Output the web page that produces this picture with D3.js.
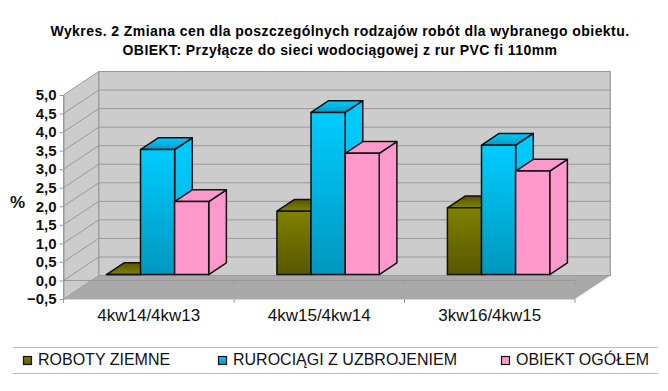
<!DOCTYPE html>
<html lang="pl">

<head>
  <meta charset="utf-8">
  <title>Wykres 2</title>
  <script src="https://d3js.org/d3.v7.min.js"></script>
  <style>
    body {
      margin: 0;
      background: #fff;
    }

    svg {
      display: block;
      font-family: "Liberation Sans", Arial, sans-serif;
    }

    .ytick text {
      font-size: 15px;
      font-weight: bold;
      fill: #111;
    }

    .xtick text {
      font-size: 17px;
      fill: #111;
    }

    .title {
      font-size: 14px;
      font-weight: bold;
      letter-spacing: 0.43px;
      fill: #000;
    }

    .legend {
      font-size: 16px;
      fill: #111;
    }
  </style>
</head>

<body>
  <svg id="svg" width="668" height="391"></svg>
  <script type="text/javascript">

    var titleLines = [
      'Wykres. 2 Zmiana cen dla poszczególnych rodzajów robót dla wybranego obiektu.',
      'OBIEKT: Przyłącze do sieci wodociągowej z rur PVC fi 110mm'
    ];
    var categories = ['4kw14/4kw13', '4kw15/4kw14', '3kw16/4kw15'];
    var seriesNames = ['ROBOTY ZIEMNE', 'RUROCIĄGI Z UZBROJENIEM', 'OBIEKT OGÓŁEM'];
    var robotyZiemne = [0.0, 1.71, 1.8];
    var rurociagi = [3.37, 4.37, 3.49];
    var obiektOgolem = [1.97, 3.27, 2.79];
    var yTicks = [-0.5, 0, 0.5, 1, 1.5, 2, 2.5, 3, 3.5, 4, 4.5, 5];

    var seriesValues = [robotyZiemne, rurociagi, obiektOgolem];

    // kolory: przod, gora i bok slupka
    var frontColors = [['#808000', '#575700'], ['#00ccff', '#0097bd'], ['#ff99cc', '#ff99cc']];
    var topColors = [['#565600', '#808000'], ['#00ccff', '#0099c0'], ['#ff99cc', '#ff99cc']];
    var sideColors = [['#808000', '#666600'], ['#00ccff', '#00b4e0'], ['#ff99cc', '#ff99cc']];
    var legendX = [23, 218, 501];

    var svg = d3.select('#svg');

    var y = d3.scaleLinear().domain([-0.5, 5]).range([299, 95]);
    var x = d3.scaleBand().domain(categories).range([63.5, 575]);
    var xSeries = d3.scaleBand().domain(seriesNames).range([0, x.bandwidth()])
      .paddingInner(0).paddingOuter(1);

    var depthX = 35.3;
    var depthY = 23.5;
    var gridColor = '#999';

    // punkt przesuniety w glab wykresu (t = 0 przod, t = 1 tylna sciana)
    function deep(px, py, t) {
      return [px + depthX * t, py - depthY * t];
    }

    var poly = d3.line();

    function buildGradient(defs, id, colors) {
      var g = defs.append('linearGradient')
        .attr('id', id)
        .attr('x1', 0).attr('y1', 0).attr('x2', 0).attr('y2', 1);
      g.append('stop').attr('offset', '0%').attr('stop-color', colors[0]);
      g.append('stop').attr('offset', '100%').attr('stop-color', colors[1]);
    }

    function buildWalls() {
      var left = x.range()[0], right = x.range()[1];
      var yMin = y(-0.5), yMax = y(5);
      var g = svg.append('g');

      // podloga
      g.append('path')
        .attr('d', poly([[left, yMin], [right, yMin], deep(right, yMin, 1), deep(left, yMin, 1)]) + 'Z')
        .style('fill', '#a9a9a9');
      // sciana lewa
      g.append('path')
        .attr('d', poly([[left, yMin], [left, yMax], deep(left, yMax, 1), deep(left, yMin, 1)]) + 'Z')
        .style('fill', '#cccccc')
        .style('stroke', gridColor);
      // sciana tylna
      g.append('path')
        .attr('d', poly([deep(left, yMin, 1), deep(left, yMax, 1), deep(right, yMax, 1), deep(right, yMin, 1)]) + 'Z')
        .style('fill', '#cccccc')
        .style('stroke', gridColor)
        .style('stroke-width', 1.2);

      // linie siatki
      g.selectAll('.grid')
        .data(yTicks.filter((d) => d > -0.5 && d < 5))
        .enter()
        .append('path')
        .attr('class', 'grid')
        .attr('d', (d) => poly([[left, y(d)], deep(left, y(d), 1), deep(right, y(d), 1)]))
        .style('fill', 'none')
        .style('stroke', gridColor);

      // os zero na podlodze
      g.append('path')
        .attr('d', poly([[left, y(0)], [right, y(0)]]))
        .style('stroke', gridColor);
      var bounds = categories.map((c) => x(c)).concat([right]);
      g.selectAll('.tick0')
        .data(bounds)
        .enter()
        .append('path')
        .attr('d', (d) => poly([[d, y(0)], [d, y(0) + 4]]))
        .style('stroke', gridColor);
      g.selectAll('.tickmin')
        .data(bounds)
        .enter()
        .append('path')
        .attr('d', (d) => poly([[d, yMin], [d, yMin + 4]]))
        .style('stroke', gridColor);
      // krawedzie podlogi
      g.append('path')
        .attr('d', poly([deep(left, yMin, 1), deep(right, yMin, 1)]))
        .style('stroke', gridColor);
      g.append('path')
        .attr('d', poly([[left, yMin], [right, yMin]]))
        .style('fill', 'none')
        .style('stroke', '#aaa');
    }

    function buildAxes() {
      var yAxis = d3.axisLeft(y)
        .tickValues(yTicks)
        .tickSize(4)
        .tickSizeOuter(0)
        .tickPadding(3)
        .tickFormat((d) => d3.format('.1f')(d).replace('.', ','));
      var gy = svg.append('g')
        .attr('class', 'ytick')
        .attr('transform', 'translate(' + x.range()[0] + ',0)')
        .call(yAxis);
      gy.selectAll('line').style('stroke', gridColor);
      gy.select('.domain').style('stroke', gridColor);

      var xAxis = d3.axisBottom(x).tickSize(0).tickPadding(10);
      var gx = svg.append('g')
        .attr('class', 'xtick')
        .attr('transform', 'translate(0,' + y(-0.5) + ')')
        .call(xAxis);
      gx.select('.domain').remove();

      svg.append('text')
        .attr('x', 17.5)
        .attr('y', 208)
        .attr('text-anchor', 'middle')
        .style('font-size', '17px')
        .style('font-weight', 'bold')
        .style('fill', '#111')
        .text('%');
    }

    function buildBars() {
      var defs = svg.append('defs');
      seriesNames.forEach((name, i) => {
        buildGradient(defs, 'front' + i, frontColors[i]);
        buildGradient(defs, 'top' + i, topColors[i]);
        buildGradient(defs, 'side' + i, sideColors[i]);
      });

      categories.forEach((cat, c) => {
        var gc = svg.append('g');
        seriesNames.forEach((name, i) => {
          var v = seriesValues[i][c];
          var x0 = x(cat) + xSeries(name) + depthX * 0.25;
          var x1 = x0 + xSeries.bandwidth();
          var base = y(0) - depthY * 0.25;
          var top = y(v) - depthY * 0.25;
          var d = deep(0, 0, 0.5);
          var faces = [
            ['side' + i, [[x1, base], [x1, top], [x1 + d[0], top + d[1]], [x1 + d[0], base + d[1]]]],
            ['top' + i, [[x0, top], [x1, top], [x1 + d[0], top + d[1]], [x0 + d[0], top + d[1]]]],
            ['front' + i, [[x0, base], [x0, top], [x1, top], [x1, base]]]
          ];
          gc.selectAll('.f' + i)
            .data(faces)
            .enter()
            .append('path')
            .attr('d', (f) => poly(f[1]) + 'Z')
            .style('fill', (f) => 'url(#' + f[0] + ')')
            .style('stroke', '#111')
            .style('stroke-width', 1.5)
            .style('stroke-linejoin', 'round');
        });
      });
    }

    function buildTitle() {
      svg.selectAll('.title')
        .data(titleLines)
        .enter()
        .append('text')
        .attr('class', 'title')
        .attr('x', 340)
        .attr('y', (d, i) => 36 + i * 18.5)
        .attr('text-anchor', 'middle')
        .text((d) => d);
    }

    function buildLegend() {
      var lines = [347.5, 373.5];
      svg.selectAll('.legline')
        .data(lines)
        .enter()
        .append('path')
        .attr('d', (d) => poly([[13, d], [658, d]]))
        .style('stroke', '#bbb');

      var items = svg.selectAll('.legitem')
        .data(seriesNames)
        .enter()
        .append('g')
        .attr('transform', (d, i) => 'translate(' + legendX[i] + ',0)');
      items.append('rect')
        .attr('x', 0.5)
        .attr('y', 356.5)
        .attr('width', 8)
        .attr('height', 8)
        .style('fill', (d, i) => 'url(#front' + i + ')')
        .style('stroke', '#111')
        .style('stroke-width', 1.2);
      items.append('text')
        .attr('class', 'legend')
        .attr('x', 15)
        .attr('y', 365)
        .text((d) => d);
    }

    buildWalls();
    buildAxes();
    buildBars();
    buildTitle();
    buildLegend();
  </script>
</body>

</html>
